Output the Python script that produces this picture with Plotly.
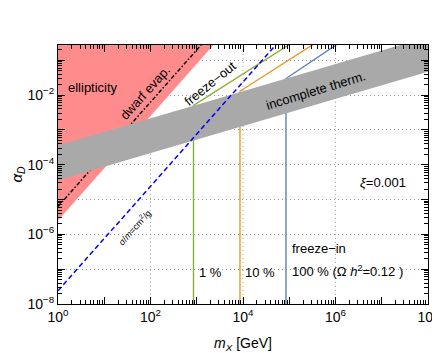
import plotly.graph_objects as go

# ---- data ----
# ellipticity excluded region (boundary line, region above-left of it)
ell_m = [1.0, 1.0e4, 1.0]
ell_alpha = [2.5e-6, 2.5, 2.5]

# dwarf evaporation line
dwarf_m = [1.0, 1.0e4]
dwarf_alpha = [6.3e-6, 6.3]

# sigma/m = cm^2/g line
sig_m = [1.0, 1.0e5]
sig_alpha = [2.4e-8, 0.76]

# incomplete thermalisation band (lower edge then upper edge)
band_m = [1.0, 1.0e8, 1.0e8, 1.0]
band_alpha = [3.6e-5, 0.047, 0.47, 3.6e-4]

# relic-abundance curves (1 %, 10 %, 100 %)
c1_m = [850, 850, 1.6e5]
c1_alpha = [1e-8, 5.1e-3, 0.42]
c10_m = [8.6e3, 8.6e3, 5.0e5]
c10_alpha = [1e-8, 1.29e-2, 0.41]
c100_m = [8.5e4, 8.5e4, 1.6e6]
c100_alpha = [1e-8, 3.0e-2, 0.41]

x_decades = [1, 10, 100, 1e3, 1e4, 1e5, 1e6, 1e7, 1e8]
x_labels = ["10<sup>0</sup>", "", "10<sup>2</sup>", "", "10<sup>4</sup>", "",
            "10<sup>6</sup>", "", "10<sup>8</sup>"]
y_decades = [1e-8, 1e-7, 1e-6, 1e-5, 1e-4, 1e-3, 1e-2, 1e-1]
y_labels = ["10<sup>−8</sup>", "", "10<sup>−6</sup>", "", "10<sup>−4</sup>", "",
            "10<sup>−2</sup>", ""]
x_grid = [1e2, 1e4, 1e6]

FONT = "Liberation Sans, Arial, sans-serif"
RED = "#FF8C8C"
GRAY = "#A9A9A9"
C_GREEN = "#8FB032"
C_ORANGE = "#E19C24"
C_BLUE = "#5E81B5"

fig = go.Figure()

# dotted vertical grid lines
for gx in x_grid:
    fig.add_trace(go.Scatter(x=[gx, gx], y=[1e-9, 10], mode="lines",
                             line=dict(color="#9a9a9a", width=1, dash="1px,3px"),
                             hoverinfo="skip", showlegend=False))

fig.add_trace(go.Scatter(x=ell_m, y=ell_alpha, fill="toself", fillcolor=RED,
                         mode="lines", line=dict(width=0, color=RED), showlegend=False))
fig.add_trace(go.Scatter(x=dwarf_m, y=dwarf_alpha, mode="lines",
                         line=dict(color="black", width=1.5, dash="4px,2px,1.5px,2px"),
                         showlegend=False))
for mm, aa, col in [(c1_m, c1_alpha, C_GREEN), (c10_m, c10_alpha, C_ORANGE),
                    (c100_m, c100_alpha, C_BLUE)]:
    fig.add_trace(go.Scatter(x=mm, y=aa, mode="lines", line=dict(color=col, width=1.4),
                             showlegend=False))
fig.add_trace(go.Scatter(x=band_m, y=band_alpha, fill="toself", fillcolor=GRAY,
                         mode="lines", line=dict(width=0, color=GRAY), showlegend=False))
fig.add_trace(go.Scatter(x=sig_m, y=sig_alpha, mode="lines",
                         line=dict(color="#0000FF", width=1.5, dash="5px,3px"),
                         showlegend=False))

minor_x = [k * 10 ** e for e in range(0, 8) for k in range(2, 10)]
minor_y = [k * 10.0 ** e for e in range(-8, 0) for k in range(2, 10)]

axis_common = dict(type="log", showline=True, linecolor="black", linewidth=1,
                   mirror="ticks", ticks="inside", ticklen=7, tickcolor="black",
                   tickfont=dict(family=FONT, size=14, color="black"),
                   zeroline=False, automargin=False)

fig.update_xaxes(**axis_common, range=[0, 8], tickmode="array", tickvals=x_decades,
                 ticktext=x_labels, showgrid=False,
                 minor=dict(tickmode="array", tickvals=minor_x, ticks="inside",
                            ticklen=4, tickcolor="black", showgrid=False),
                 title=dict(text="<i>m</i><sub><i>X</i></sub> [GeV]",
                            font=dict(family=FONT, size=14, color="black"), standoff=14))
fig.update_yaxes(**axis_common, range=[-8, -0.56], tickmode="array", tickvals=y_decades,
                 ticktext=y_labels, showgrid=True, gridcolor="#9a9a9a", gridwidth=1,
                 griddash="1px,3px",
                 minor=dict(tickmode="array", tickvals=minor_y, ticks="inside",
                            ticklen=4, tickcolor="black", showgrid=False),
                 title=dict(text="<i>α</i><sub><i>D</i></sub>",
                            font=dict(family=FONT, size=15, color="black"), standoff=2))

def ann(x, y, text, angle=0, size=13, xanchor="center"):
    fig.add_annotation(x=x, y=y, xref="x", yref="y", text=text, showarrow=False,
                       textangle=angle, xanchor=xanchor, yanchor="middle",
                       font=dict(family=FONT, size=size, color="black"))

ann(0.757, -1.77, "ellipticity")
ann(1.88, -1.91, "dwarf evap.", angle=-48)
ann(3.29, -1.66, "freeze−out", angle=-39)
ann(5.57, -1.86, "incomplete therm.", angle=-17)
ann(1.65, -5.78, "<i>σ</i>/<i>m</i>=cm<sup>2</sup>/g", angle=-48, size=9)
ann(7.03, -4.5, "<i>ξ</i>=0.001")
ann(5.02, -6.40, "freeze−in", xanchor="left")
ann(3.0, -7.09, "1 %", xanchor="left")
ann(4.0, -7.09, "10 %", xanchor="left")
ann(5.02, -7.06, "100 % (Ω <i>h</i><sup>2</sup>=0.12 )", xanchor="left")

# the page adds an 8 px body margin, so the figure is sized to sit inside the window
fig.update_layout(width=432, height=345, margin=dict(l=50, r=12, t=37, b=49),
                  paper_bgcolor="white", plot_bgcolor="white", showlegend=False)

fig.write_html("out.html")
